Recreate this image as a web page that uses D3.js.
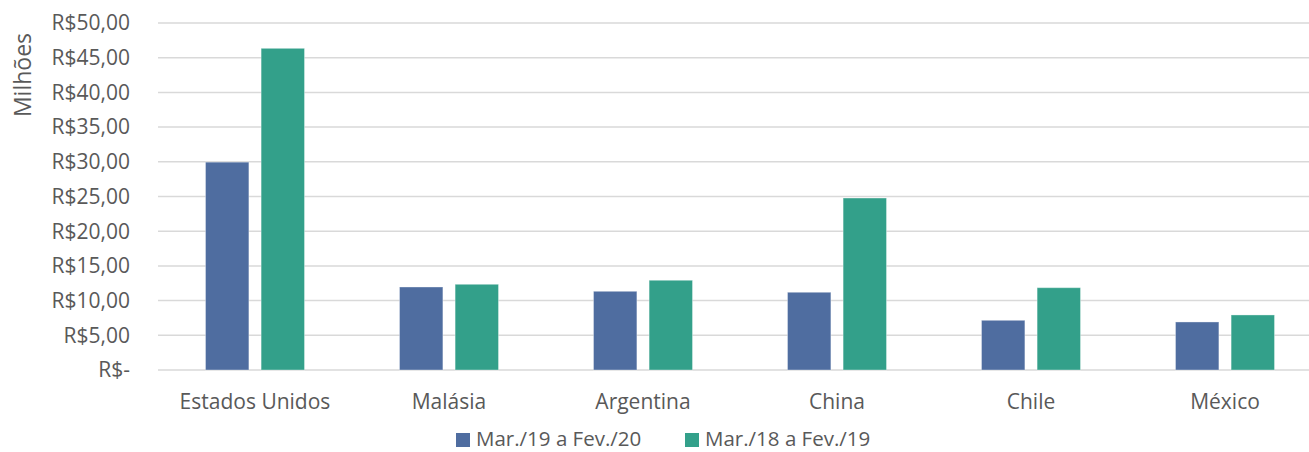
<!DOCTYPE html>
<html>
<head>
<meta charset="utf-8">
<script src="https://cdn.jsdelivr.net/npm/d3@7"></script>
<style>
  body { margin: 0; background: #fff; }
  text { font-family: "Open Sans", sans-serif; fill: #595959; }
</style>
</head>
<body>
<div id="chart"></div>
<script>
// values in millions of R$
const categories = ["Estados Unidos", "Malásia", "Argentina", "China", "Chile", "México"];
const seriesNames = ["Mar./19 a Fev./20", "Mar./18 a Fev./19"];
const serie2019 = [29.95, 11.96, 11.34, 11.2, 7.16, 6.92];
const serie2018 = [46.35, 12.35, 12.93, 24.78, 11.86, 7.93];
const yTicks = [0, 5, 10, 15, 20, 25, 30, 35, 40, 45, 50];
const colors = ["#4f6da0", "#33a08a"];

const W = 1309, H = 452;
const svg = d3.select("#chart").append("svg")
    .attr("width", W)
    .attr("height", H);

const y = d3.scaleLinear().domain([0, 50]).range([370, 23]);

const x0 = d3.scaleBand()
    .domain(categories)
    .range([158, 1322])
    .padding(0);

const groupW = 99;
const x1 = d3.scaleBand()
    .domain([0, 1])
    .range([0, groupW])
    .paddingInner(0.22);

const fmt = v => v === 0 ? "R$-" : "R$" + d3.format(".2f")(v).replace(".", ",");

// gridlines
svg.append("g")
  .selectAll("line")
  .data(yTicks)
  .join("line")
    .attr("x1", 158)
    .attr("x2", W)
    .attr("y1", d => y(d))
    .attr("y2", d => y(d))
    .attr("stroke", "#d9d9d9")
    .attr("stroke-width", 1.5);

// y axis labels
svg.append("g")
  .selectAll("text")
  .data(yTicks)
  .join("text")
    .attr("x", 130)
    .attr("y", d => y(d))
    .attr("dy", "0.35em")
    .attr("text-anchor", "end")
    .style("font-size", "21px")
    .text(fmt);

svg.append("text")
    .attr("transform", "translate(31,75) rotate(-90)")
    .attr("text-anchor", "middle")
    .style("font-size", "23px")
    .text("Milhões");

const rows = categories.map((c, i) => ({ cat: c, vals: [serie2019[i], serie2018[i]] }));

const groups = svg.append("g")
  .selectAll("g")
  .data(rows)
  .join("g")
    .attr("transform", d => `translate(${x0(d.cat) + (x0.bandwidth() - groupW) / 2},0)`);

groups.selectAll("rect")
  .data(d => d.vals.map((v, k) => ({ k, v })))
  .join("rect")
    .attr("x", d => x1(d.k))
    .attr("y", d => y(d.v))
    .attr("width", x1.bandwidth())
    .attr("height", d => y(0) - y(d.v))
    .attr("fill", d => colors[d.k])
    .attr("stroke", "#fff")
    .attr("stroke-opacity", 0.35)
    .attr("stroke-width", 1);

// category labels
svg.append("g")
  .selectAll("text")
  .data(categories)
  .join("text")
    .attr("x", d => x0(d) + x0.bandwidth() / 2)
    .attr("y", 409)
    .attr("text-anchor", "middle")
    .style("font-size", "21px")
    .text(d => d);

// legend
const legendX = [456, 685];
const legend = svg.append("g")
  .selectAll("g")
  .data(seriesNames)
  .join("g")
    .attr("transform", (d, i) => `translate(${legendX[i]},433)`);

legend.append("rect")
    .attr("width", 14)
    .attr("height", 14)
    .attr("fill", (d, i) => colors[i]);

legend.append("text")
    .attr("x", 20)
    .attr("y", 13)
    .style("font-size", "20.5px")
    .text(d => d);
</script>
</body>
</html>
